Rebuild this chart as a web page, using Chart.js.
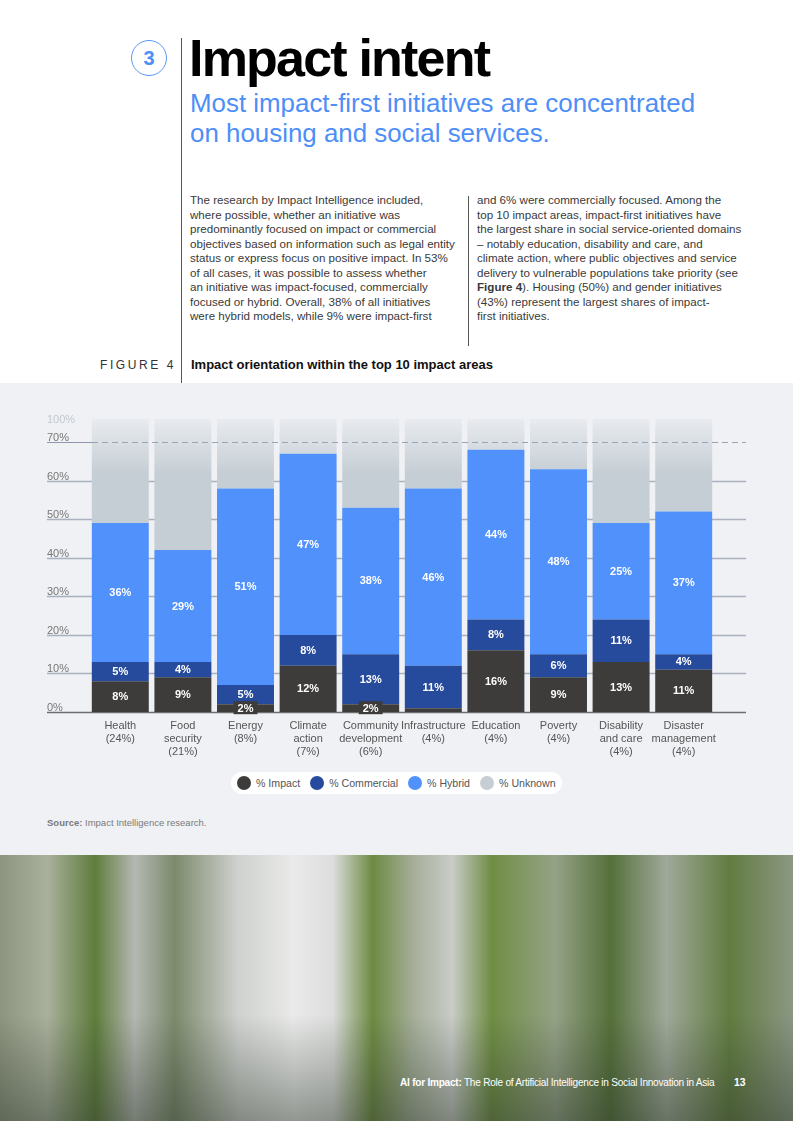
<!DOCTYPE html>
<html lang="en">
<head>
<meta charset="UTF-8">
<title>Impact intent</title>
<script src="https://cdn.jsdelivr.net/npm/chart.js@4.4.0/dist/chart.umd.min.js"></script>
<style>
  html, body { margin: 0; padding: 0; }
  body { width: 793px; height: 1121px; position: relative; overflow: hidden; background: #fff;
         font-family: "Liberation Sans", Arial, Helvetica, sans-serif; color: #333; }
  .abs { position: absolute; }
  #rule { left: 181px; top: 38px; width: 1px; height: 345px; background: #555; }
  #num { left: 131px; top: 40px; width: 34px; height: 34px; border: 1px solid #5b97f6; border-radius: 50%;
         color: #4d8ef7; font-weight: bold; font-size: 20px; line-height: 34px; text-align: center; }
  #title { left: 189px; top: 28px; font-size: 52px; font-weight: bold; letter-spacing: -1.8px; color: #000; white-space: nowrap; }
  #sub { left: 190px; top: 88px; font-size: 25.9px; line-height: 30px; color: #4d8ef7; white-space: nowrap; }
  .col { top: 193px; font-size: 11.6px; line-height: 14.5px; color: #3a3a3a; white-space: nowrap; }
  #colL { left: 190px; }
  #colR { left: 477px; }
  #divider { left: 468px; top: 196px; width: 1px; height: 150px; background: #555; }
  #figlab { left: 100px; top: 358px; font-size: 12px; letter-spacing: 2.6px; color: #333; }
  #figtitle { left: 191px; top: 357px; font-size: 13px; font-weight: bold; color: #111; white-space: nowrap; }
  #panel { left: 0; top: 383px; width: 793px; height: 472px; background: #eff1f5; }
  #chartbox { left: 0; top: 383px; width: 793px; height: 385px; }
  #legend { left: 231px; top: 772px; width: 331px; height: 22px; background: #fff; border-radius: 11px;
            display: flex; align-items: center; font-size: 10.6px; color: #555; white-space: nowrap; }
  .item { display: flex; align-items: center; flex-shrink: 0; }
  .dot { width: 14px; height: 14px; border-radius: 50%; margin-right: 5px; flex-shrink: 0; }
  #source { left: 47px; top: 817px; font-size: 9.5px; color: #7a7a7a; }
  #photo { left: 0; top: 855px; width: 793px; height: 266px;
           background:
             linear-gradient(180deg, rgba(0,0,0,0) 60%, rgba(40,50,40,0.45) 100%),
             linear-gradient(90deg, #8d947f 0%, #a9b09c 6%, #5f7d3c 12%, #b5b8b3 17%, #7c8a6c 22%,
             #cfd1ce 30%, #e9eae9 37%, #dcdddc 42%, #6d8a42 47%, #a4ad98 52%, #c9ccc8 57%,
             #6f8d43 62%, #95a287 70%, #55703a 77%, #a0a99a 84%, #617c40 92%, #8c9784 100%); }
  #foot { left: 400px; top: 1077px; font-size: 10.1px; color: #fff; letter-spacing: -0.25px; white-space: nowrap; }
  #page { left: 734px; top: 1077px; font-size: 10.4px; color: #fff; font-weight: bold; }
</style>
</head>
<body>
<div class="abs" id="num">3</div>
<div class="abs" id="rule"></div>
<div class="abs" id="title">Impact intent</div>
<div class="abs" id="sub">Most impact-first initiatives are concentrated<br>on housing and social services.</div>

<div class="abs col" id="colL">The research by Impact Intelligence included,<br>where possible, whether an initiative was<br>predominantly focused on impact or commercial<br>objectives based on information such as legal entity<br>status or express focus on positive impact. In 53%<br>of all cases, it was possible to assess whether<br>an initiative was impact-focused, commercially<br>focused or hybrid. Overall, 38% of all initiatives<br>were hybrid models, while 9% were impact-first</div>
<div class="abs" id="divider"></div>
<div class="abs col" id="colR">and 6% were commercially focused. Among the<br>top 10 impact areas, impact-first initiatives have<br>the largest share in social service-oriented domains<br>– notably education, disability and care, and<br>climate action, where public objectives and service<br>delivery to vulnerable populations take priority (see<br><b>Figure 4</b>). Housing (50%) and gender initiatives<br>(43%) represent the largest shares of impact-<br>first initiatives.</div>

<div class="abs" id="figlab">FIGURE 4</div>
<div class="abs" id="figtitle">Impact orientation within the top 10 impact areas</div>

<div class="abs" id="panel"></div>
<div class="abs" id="chartbox"><canvas id="chart1"></canvas></div>
<div class="abs" id="legend"></div>
<div class="abs" id="source"><b>Source:</b> Impact Intelligence research.</div>

<div class="abs" id="photo"></div>
<div class="abs" id="foot"><b>AI for Impact:</b> The Role of Artificial Intelligence in Social Innovation in Asia</div>
<div class="abs" id="page">13</div>

<script>
// categories (share of all initiatives in brackets)
const areas = [
  ['Health', '(24%)'],
  ['Food', 'security', '(21%)'],
  ['Energy', '(8%)'],
  ['Climate', 'action', '(7%)'],
  ['Community', 'development', '(6%)'],
  ['Infrastructure', '(4%)'],
  ['Education', '(4%)'],
  ['Poverty', '(4%)'],
  ['Disability', 'and care', '(4%)'],
  ['Disaster', 'management', '(4%)']
];

// values in %
const impactShare     = [8, 9, 2, 12, 2, 1, 16, 9, 13, 11];
const commercialShare = [5, 4, 5, 8, 13, 11, 8, 6, 11, 4];
const hybridShare     = [36, 29, 51, 47, 38, 46, 44, 48, 25, 37];
const unknownShare    = [51, 58, 42, 33, 47, 42, 32, 37, 51, 48];

const yTicks = [0, 10, 20, 30, 40, 50, 60, 70];
const topLabel = '100%';
const seriesNames = ['% Impact', '% Commercial', '% Hybrid', '% Unknown'];
const seriesColors = ['#3d3c3b', '#264a9c', '#5191fc', '#c6ced5'];

// legend (html, pill shaped)
const legend = document.getElementById('legend');
const legendGap = [6, 10, 10, 10];
seriesNames.forEach((name, i) => {
  const it = document.createElement('div');
  it.className = 'item';
  it.style.marginLeft = legendGap[i] + 'px';
  it.innerHTML = '<span class="dot" style="background:' + seriesColors[i] + '"></span>' + name;
  legend.appendChild(it);
});

// solid grid lines + y labels, drawn from the y scale (behind the bars)
const gridPlugin = {
  id: 'grid',
  beforeDatasetsDraw(chart) {
    const c = chart.ctx, y = chart.scales.y;
    const x0 = 47, x1 = 746;
    c.save();
    c.font = '11px "Liberation Sans", Arial, sans-serif';
    c.textAlign = 'left';
    yTicks.forEach(v => {
      const py = Math.round(y.getPixelForValue(v)) + 0.5;
      if (v === 0) {
        c.strokeStyle = '#6f6f6f'; c.lineWidth = 1.5;
      } else {
        c.strokeStyle = '#a9b1bf'; c.lineWidth = 1.4;
      }
      if (v !== 70) {
        c.beginPath(); c.moveTo(x0, py); c.lineTo(x1, py); c.stroke();
      }
      c.fillStyle = '#777';
      c.fillText(v + '%', x0, py - 2);
    });
    c.fillStyle = '#c3c8cf';
    c.fillText(topLabel, x0, chart.chartArea.top + 4);
    c.restore();
  },
  // the 70% line runs dashed across the bars
  afterDatasetsDraw(chart) {
    const c = chart.ctx, y = chart.scales.y;
    const py = Math.round(y.getPixelForValue(70)) + 0.5;
    c.save();
    c.lineWidth = 1.2;
    c.strokeStyle = '#8e98aa';
    c.beginPath(); c.moveTo(47, py); c.lineTo(92, py); c.stroke();
    c.setLineDash([6, 4]);
    c.strokeStyle = '#9aa3b3';
    c.beginPath(); c.moveTo(92, py); c.lineTo(746, py); c.stroke();
    c.restore();
  }
};

// value labels in the middle of each segment
const labelPlugin = {
  id: 'segLabels',
  afterDatasetsDraw(chart) {
    const c = chart.ctx;
    c.save();
    c.font = 'bold 11px "Liberation Sans", Arial, sans-serif';
    c.textAlign = 'center';
    c.textBaseline = 'middle';
    [0, 1, 2].forEach(di => {
      const meta = chart.getDatasetMeta(di);
      const vals = chart.data.datasets[di].data;
      meta.data.forEach((bar, i) => {
        const v = vals[i];
        if (v < 2) return;
        const txt = v + '%';
        const cy = (bar.y + bar.base) / 2;
        if (v <= 2) {
          const w = c.measureText(txt).width + 8;
          c.fillStyle = seriesColors[di];
          c.fillRect(bar.x - w / 2, cy - 7, w, 13);
        }
        c.fillStyle = '#fff';
        c.fillText(txt, bar.x, cy + 0.5);
      });
    });
    c.restore();
  }
};

function unknownFill(ctx) {
  const chart = ctx.chart, area = chart.chartArea;
  if (!area) return seriesColors[3];
  const y = chart.scales.y;
  const g = chart.ctx.createLinearGradient(0, area.top, 0, y.getPixelForValue(62));
  g.addColorStop(0, '#e8ebef');
  g.addColorStop(1, seriesColors[3]);
  return g;
}

const data = {
  labels: areas,
  datasets: [
    { label: seriesNames[0], data: impactShare, backgroundColor: seriesColors[0] },
    { label: seriesNames[1], data: commercialShare, backgroundColor: seriesColors[1] },
    { label: seriesNames[2], data: hybridShare, backgroundColor: seriesColors[2] },
    { label: seriesNames[3], data: unknownShare, backgroundColor: unknownFill }
  ]
};

const chart1 = new Chart(document.getElementById('chart1'), {
  type: 'bar',
  data: data,
  options: {
    responsive: true,
    maintainAspectRatio: false,
    animation: false,
    events: [],
    layout: { padding: { top: 36, left: 89, right: 78, bottom: 3 } },
    datasets: { bar: { barPercentage: 0.91, categoryPercentage: 1.0, borderWidth: 0 } },
    scales: {
      x: {
        stacked: true,
        grid: { display: false, drawTicks: false },
        border: { display: false },
        ticks: {
          padding: 7,
          color: '#555',
          maxRotation: 0,
          autoSkip: false,
          font: { family: '"Liberation Sans", Arial, sans-serif', size: 11, lineHeight: 1.18 }
        }
      },
      y: { stacked: true, min: 0, max: 76, display: false }
    },
    plugins: {
      legend: { display: false },
      tooltip: { enabled: false }
    }
  },
  plugins: [gridPlugin, labelPlugin]
});
</script>
</body>
</html>
